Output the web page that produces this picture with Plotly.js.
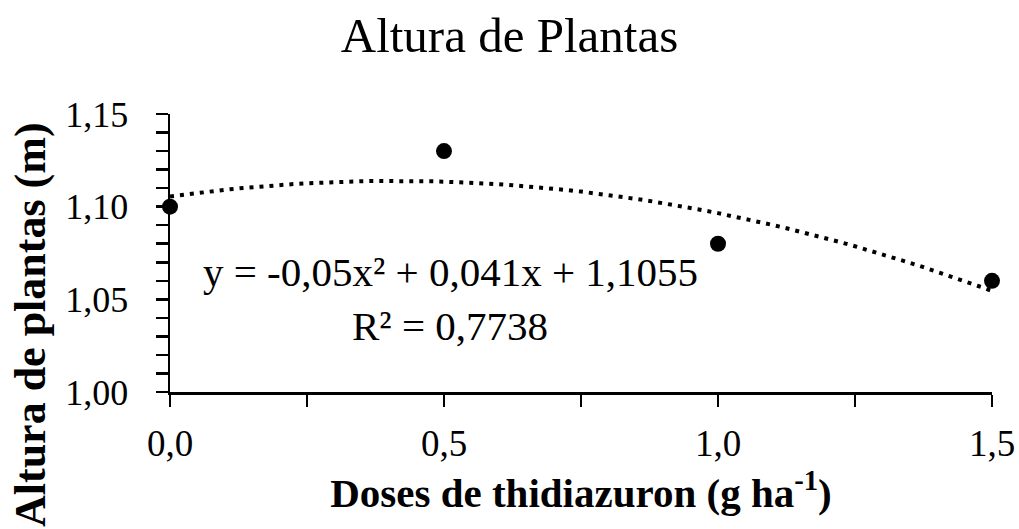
<!DOCTYPE html>
<html>
<head>
<meta charset="utf-8">
<script src="https://cdn.plot.ly/plotly-3.0.1.min.js"></script>
<style>html,body{margin:0;padding:0;background:#fff;}#chart{width:1019px;height:529px;}</style>
</head>
<body>
<div id="chart"></div>
<script>
// Observed data
var doses = [0, 0.5, 1.0, 1.5];
var altura = [1.10, 1.13, 1.08, 1.06];
// Quadratic trendline coefficients shown on the chart: y = a x^2 + b x + c
var trendCoef = [-0.05, 0.041, 1.1055];
var xTicks = [0, 0.5, 1.0, 1.5];
var yTicks = [1.00, 1.05, 1.10, 1.15];

var trendX = [], trendY = [];
for (var i = 0; i <= 60; i++) {
  var x = 1.5 * i / 60;
  trendX.push(x);
  trendY.push(trendCoef[0] * x * x + trendCoef[1] * x + trendCoef[2]);
}

var FONT = 'Liberation Serif, Times New Roman, serif';

var traces = [
  {x: trendX, y: trendY, mode: 'lines', type: 'scatter',
   line: {color: 'black', width: 4, dash: '4px,6px'}, hoverinfo: 'skip', cliponaxis: false},
  {x: doses, y: altura, mode: 'markers', type: 'scatter',
   marker: {color: 'black', size: 16}, cliponaxis: false}
];

var layout = {
  width: 1019, height: 529,
  paper_bgcolor: 'white', plot_bgcolor: 'white',
  separators: ',.',
  showlegend: false,
  margin: {l: 170, r: 27, t: 114, b: 137},
  font: {family: FONT, color: 'black'},
  title: {text: 'Altura de Plantas', font: {family: FONT, size: 49, color: 'black'},
          x: 0.5, xref: 'container', xanchor: 'center', y: 0.935, yref: 'container', yanchor: 'middle'},
  xaxis: {
    range: [0, 1.5], tickvals: xTicks, tickformat: '.1f',
    showgrid: false, zeroline: false,
    showline: true, linecolor: 'black', linewidth: 2.5,
    ticks: 'outside', ticklen: 12, tickwidth: 2.5, tickcolor: 'black',
    ticklabelstandoff: 5,
    tickfont: {family: FONT, size: 37, color: 'black'},
    minor: {dtick: 0.25, tick0: 0, ticks: 'outside', ticklen: 12, tickwidth: 2.5, tickcolor: 'black', showgrid: false},
    title: {text: '<b>Doses de thidiazuron (g ha<sup>-1</sup>)</b>', font: {family: FONT, size: 41, color: 'black'}, standoff: 10}
  },
  yaxis: {
    range: [1.0, 1.15], tickvals: yTicks, tickformat: '.2f',
    showgrid: false, zeroline: false,
    showline: true, linecolor: 'black', linewidth: 2.5,
    ticks: 'outside', ticklen: 12, tickwidth: 2.5, tickcolor: 'black',
    ticklabelstandoff: 20,
    tickfont: {family: FONT, size: 36, color: 'black'},
    minor: {dtick: 0.01, tick0: 1.0, ticks: 'outside', ticklen: 12, tickwidth: 2.5, tickcolor: 'black', showgrid: false}
  },
  annotations: [
    {text: '<b>Altura de plantas (m)</b>', textangle: -90, x: 0, y: 0, xref: 'paper', yref: 'paper',
     showarrow: false, font: {family: FONT, size: 44, color: 'black'}, xanchor: 'center', yanchor: 'middle'},
    {text: 'y = -0,05x² + 0,041x + 1,1055', x: 0.511, y: 1.0648, xref: 'x', yref: 'y',
     showarrow: false, font: {family: FONT, size: 41, color: 'black'}, xanchor: 'center', yanchor: 'middle'},
    {text: 'R² = 0,7738', x: 0.511, y: 1.0356, xref: 'x', yref: 'y',
     showarrow: false, font: {family: FONT, size: 41, color: 'black'}, xanchor: 'center', yanchor: 'middle'}
  ]
};

// Place the y-title annotation (pixel position converted to paper coords)
var plotW = 1019 - 170 - 27, plotH = 529 - 114 - 137;
layout.annotations[0].x = (30 - 170) / plotW;
layout.annotations[0].y = (529 - 137 - 325) / plotH;

Plotly.newPlot('chart', traces, layout, {displayModeBar: false, staticPlot: true});
</script>
</body>
</html>
